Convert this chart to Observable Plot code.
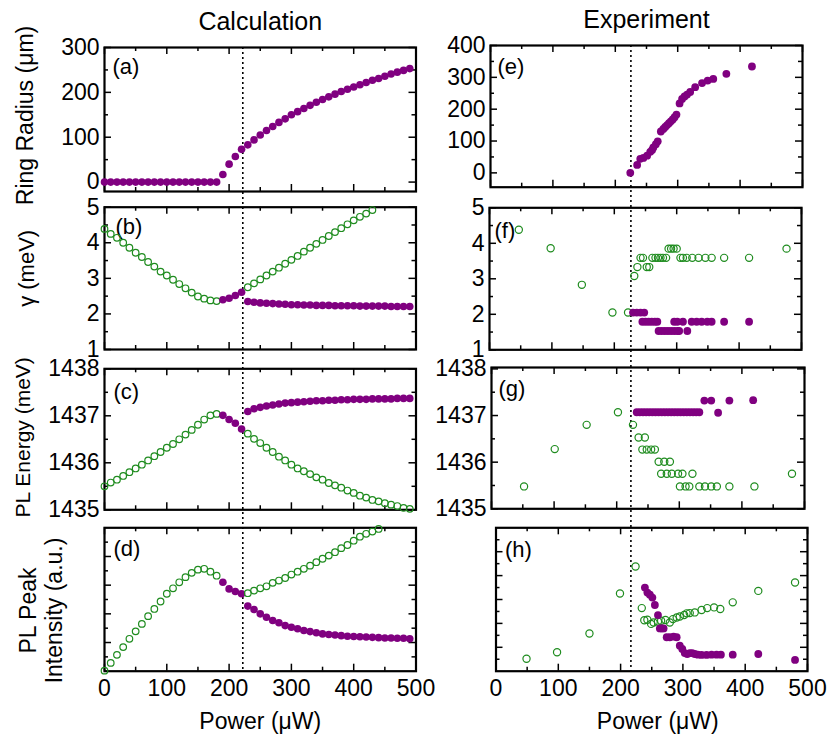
<!DOCTYPE html>
<html><head><meta charset="utf-8">
<script src="https://cdn.jsdelivr.net/npm/d3@7"></script>
<script src="https://cdn.jsdelivr.net/npm/@observablehq/plot@0.6"></script>
<style>
body{margin:0;background:#fff;}
#chart{position:relative;width:829px;height:735px;overflow:hidden;background:#fff;}
#chart svg{position:absolute;left:0;top:0;}
</style></head><body><div id="chart"></div>
<script>
// ---------------- DATA ----------------
// Calculation (left column): power in µW
const calcPower = [0,10,20,30,40,50,60,70,80,90,100,110,120,130,140,150,160,170,180,190,200,210,220,230,240,250,260,270,280,290,300,310,320,330,340,350,360,370,380,390,400,410,420,430,440,450,460,470,480,490];
const calcRadius = [0,0,0,0,0,0,0,0,0,0,0,0,0,0,0,0,0,0,0,17,40,57,73,83,94,105,115,124,133,141,150,157,164,171,178,184,190,196,202,207,212,217,222,227,231,236,241,245,249,253];

const calcGreenLowPower = [0,10,20,30,40,50,60,70,80,90,100,110,120,130,140,150,160,170,180];
const calcPurpleMidPower = [190,200,210,220];
const calcHighPower = [230,240,250,260,270,280,290,300,310,320,330,340,350,360,370,380,390,400,410,420,430,440,450,460,470,480,490];

const gammaGreenLow = [4.39,4.25,4.14,4.00,3.86,3.72,3.60,3.46,3.33,3.19,3.08,2.96,2.84,2.72,2.60,2.49,2.43,2.38,2.36];
const gammaPurpleMid = [2.40,2.44,2.52,2.61];
const gammaGreenHigh = [2.75,2.86,2.97,3.08,3.19,3.30,3.41,3.52,3.63,3.75,3.86,3.97,4.08,4.19,4.30,4.41,4.52,4.63,4.73,4.82,4.92];
const gammaPurpleHigh = [2.35,2.33,2.31,2.30,2.29,2.28,2.27,2.26,2.26,2.25,2.25,2.24,2.24,2.24,2.23,2.23,2.23,2.23,2.22,2.22,2.22,2.22,2.22,2.21,2.21,2.21,2.21];

const energyGreenLow = [1435.50,1435.58,1435.64,1435.72,1435.80,1435.88,1435.96,1436.05,1436.14,1436.23,1436.32,1436.40,1436.50,1436.60,1436.70,1436.81,1436.92,1437.01,1437.04];
const energyPurpleMid = [1437.01,1436.92,1436.84,1436.72];
const energyGreenHigh = [1436.62,1436.51,1436.42,1436.32,1436.23,1436.13,1436.05,1435.96,1435.88,1435.82,1435.76,1435.69,1435.64,1435.57,1435.52,1435.47,1435.41,1435.36,1435.30,1435.26,1435.21,1435.18,1435.14,1435.11,1435.08,1435.04,1435.02];
const energyPurpleHigh = [1437.09,1437.15,1437.18,1437.21,1437.23,1437.25,1437.27,1437.28,1437.29,1437.30,1437.31,1437.32,1437.32,1437.33,1437.33,1437.34,1437.34,1437.35,1437.35,1437.35,1437.36,1437.36,1437.36,1437.36,1437.37,1437.37,1437.37];

const intensGreenLow = [0.02,0.29,0.57,0.84,1.13,1.39,1.65,1.92,2.17,2.43,2.70,2.89,3.10,3.28,3.43,3.54,3.57,3.47,3.33];
const intensPurpleMid = [3.10,2.87,2.78,2.70];
const intensGreenHigh = [2.72,2.81,2.89,2.96,3.08,3.16,3.25,3.37,3.47,3.57,3.68,3.80,3.92,4.03,4.15,4.29,4.40,4.55,4.69,4.79,4.87,4.96];
const intensPurpleHigh = [2.27,2.15,2.00,1.88,1.77,1.69,1.59,1.53,1.48,1.42,1.38,1.34,1.30,1.28,1.26,1.24,1.22,1.21,1.20,1.19,1.18,1.17,1.16,1.16,1.15,1.15,1.13];

const calcThreshold = [222];

// Experiment (right column)
const expRadiusPower = [224,235,240,245,251,256,259,261,265,268,273,277,280,283,286,289,292,295,298,303,307,311,315,320,328,339,348,357,378,419];
const expRadius = [0,25,44,47,54,66,72,80,90,99,130,138,144,150,156,162,168,175,183,218,232,240,246,254,269,282,290,295,311,334];

const expGammaGreenPower = [47,98,148,197,222,232,237,242,246,252,256,261,266,270,274,278,283,287,291,295,300,306,310,316,325,335,346,356,376,416,476];
const expGammaGreen = [4.38,3.86,2.83,2.05,2.05,3.08,3.33,3.59,3.59,3.33,3.33,3.59,3.59,3.59,3.59,3.59,3.59,3.85,3.85,3.85,3.85,3.59,3.59,3.59,3.59,3.59,3.59,3.59,3.59,3.59,3.85];
const expGammaPurplePower = [230,236,242,248,245,250,255,260,265,269,271,276,281,286,291,296,301,304,317,296,301,310,324,332,340,349,356,376,416];
const expGammaPurple = [2.05,2.05,2.05,2.05,1.79,1.79,1.79,1.79,1.79,1.79,1.53,1.53,1.53,1.53,1.53,1.53,1.53,1.53,1.53,1.79,1.79,1.79,1.79,1.79,1.79,1.79,1.79,1.79,1.79];

const expEnergyGreenPower = [52,101,152,202,226,235,245,241,248,255,261,267,276,285,271,280,288,298,305,321,301,310,316,332,341,351,360,380,420,480];
const expEnergyGreen = [1435.48,1436.28,1436.80,1437.07,1436.80,1436.53,1436.53,1436.27,1436.27,1436.27,1436.27,1436.01,1436.01,1436.01,1435.75,1435.75,1435.75,1435.75,1435.75,1435.75,1435.48,1435.48,1435.48,1435.48,1435.48,1435.48,1435.48,1435.48,1435.48,1435.75];
const expEnergyPurplePower = [232,237,242,247,252,257,262,267,272,277,282,287,292,297,302,307,312,317,322,327,332,362,340,351,380,418];
const expEnergyPurple = [1437.07,1437.07,1437.07,1437.07,1437.07,1437.07,1437.07,1437.07,1437.07,1437.07,1437.07,1437.07,1437.07,1437.07,1437.07,1437.07,1437.07,1437.07,1437.07,1437.07,1437.07,1437.06,1437.32,1437.32,1437.32,1437.33];

const expIntensGreenPower = [49,98,150,199,224,234,238,243,249,253,260,265,272,279,284,290,295,302,306,311,319,330,339,350,360,380,421,480];
const expIntensGreen = [0.52,0.79,1.58,3.25,4.38,2.64,2.13,2.15,1.98,2.04,2.08,2.11,2.14,2.04,2.18,2.25,2.29,2.35,2.42,2.43,2.46,2.56,2.64,2.67,2.60,2.88,3.36,3.71];
const expIntensPurplePower = [239,243,247,251,255,260,263,266,269,274,279,285,290,295,299,303,307,311,315,319,324,330,338,346,354,361,380,421,480];
const expIntensPurple = [3.50,3.29,3.20,3.08,2.77,2.35,1.79,1.79,1.79,1.42,1.42,1.45,1.42,1.07,0.93,0.76,0.72,0.76,0.76,0.72,0.69,0.68,0.68,0.69,0.69,0.69,0.69,0.72,0.47];

const expThreshold = [225];

const xTickValues = [0,100,200,300,400,500];
const xMinorValues = [50,150,250,350,450];

// ---------------- DRAWING ----------------
const W = 829, H = 735;
const FONT = "'Liberation Sans', Arial, Helvetica, sans-serif";
const PURPLE = "#800080", GREEN = "#1f8c1f";

const pts = (xs, ys) => xs.map((x, i) => ({x, y: ys[i]}));
const filled = (xs, ys, r) => Plot.dot(pts(xs, ys), {x: "x", y: "y", r, fill: PURPLE, stroke: null});
const open = (xs, ys, r) => Plot.dot(pts(xs, ys), {x: "x", y: "y", r, fill: "none", stroke: GREEN, strokeWidth: 1.2});

function panel(cfg) {
  const [L, R, T, B] = cfg.frame;
  const fw = R - L, fh = B - T;
  const maj = 7, min = 4;
  const marks = [
    // inward ticks on all four sides
    Plot.ruleY(cfg.yMajor, {y: d => d, insetRight: fw - maj, strokeWidth: 1.5}),
    Plot.ruleY(cfg.yMajor, {y: d => d, insetLeft: fw - maj, strokeWidth: 1.5}),
    Plot.ruleY(cfg.yMinor, {y: d => d, insetRight: fw - min, strokeWidth: 1.5}),
    Plot.ruleY(cfg.yMinor, {y: d => d, insetLeft: fw - min, strokeWidth: 1.5}),
    Plot.ruleX(xTickValues, {x: d => d, insetTop: fh - maj, strokeWidth: 1.5}),
    Plot.ruleX(xTickValues, {x: d => d, insetBottom: fh - maj, strokeWidth: 1.5}),
    Plot.ruleX(xMinorValues, {x: d => d, insetTop: fh - min, strokeWidth: 1.5}),
    Plot.ruleX(xMinorValues, {x: d => d, insetBottom: fh - min, strokeWidth: 1.5}),
    Plot.frame({strokeWidth: 2.2}),
    Plot.text([cfg.tag], {text: d => d, frameAnchor: "top-left", textAnchor: "start", lineAnchor: "top", dx: cfg.tagDx, dy: cfg.tagDy, fontSize: 22})
  ];
  if (cfg.yLabels) marks.push(Plot.axisY(cfg.yLabels, {anchor: "left", tickSize: 0, tickPadding: 5, tickFormat: d => String(d), label: null, fontSize: 23}));
  if (cfg.xLabels) {
    marks.push(Plot.axisX(xTickValues, {anchor: "bottom", tickSize: 0, tickPadding: 8, tickFormat: d => String(d), label: null, fontSize: 23}));
    marks.push(Plot.text(["Power (μW)"], {text: d => d, frameAnchor: "bottom", lineAnchor: "top", dy: 41, dx: cfg.powerDx || 0, fontSize: 23}));
  }
  if (cfg.yTitle) marks.push(Plot.text([cfg.yTitle], {text: d => d, frameAnchor: "left", textAnchor: "middle", lineAnchor: "middle", rotate: -90, dx: cfg.yTitleDx, dy: cfg.yTitleDy || 0, fontSize: cfg.yTitleSize || 23, lineHeight: 1.15}));
  if (cfg.title) marks.push(Plot.text([cfg.title], {text: d => d, frameAnchor: "top", lineAnchor: "bottom", dy: -18, fontSize: 25}));
  if (cfg.rule) marks.push(Plot.ruleX(cfg.rule, {x: d => d, strokeDasharray: "2,3", strokeWidth: 1.6, insetBottom: -cfg.ruleExtend}));
  marks.push(...cfg.data);
  return Plot.plot({
    width: W, height: H,
    marginLeft: L, marginRight: W - R, marginTop: T, marginBottom: H - B,
    x: {domain: [0, 500], axis: null},
    y: {domain: cfg.yDomain, axis: null},
    style: {background: "transparent", fontFamily: FONT, fontSize: "22px", color: "black", overflow: "visible"},
    marks
  });
}

const RC = 3.8, RG = 3.3, RE = 3.9, RGE = 3.6;
const panels = [
  { // (a)
    frame: [104, 415.5, 47, 191], yDomain: [-21, 300], yMajor: [0,100,200,300], yMinor: [50,150,250],
    yLabels: [0,100,200,300], tag: "(a)", tagDx: 8, tagDy: 11,
    yTitle: "Ring Radius (μm)", yTitleDx: -80, yTitleDy: -4, title: "Calculation",
    rule: calcThreshold, ruleExtend: 670.7 - 191,
    data: [filled(calcPower, calcRadius, RC)]
  },
  { // (b)
    frame: [104, 415.5, 206.7, 349], yDomain: [1, 5], yMajor: [1,2,3,4,5], yMinor: [1.5,2.5,3.5,4.5],
    yLabels: [1,2,3,4,5], tag: "(b)", tagDx: 11, tagDy: 11,
    yTitle: "γ (meV)", yTitleDx: -79, yTitleDy: -10, yTitleSize: 22,
    data: [open(calcGreenLowPower, gammaGreenLow, RG), filled(calcPurpleMidPower, gammaPurpleMid, RC),
           open(calcHighPower.slice(0, gammaGreenHigh.length), gammaGreenHigh, RG), filled(calcHighPower, gammaPurpleHigh, RC)]
  },
  { // (c)
    frame: [104, 415.5, 368.3, 509.3], yDomain: [1435, 1438], yMajor: [1435,1436,1437,1438], yMinor: [1435.5,1436.5,1437.5],
    yLabels: [1435,1436,1437,1438], tag: "(c)", tagDx: 9, tagDy: 15,
    yTitle: "PL Energy (meV)", yTitleDx: -82, yTitleDy: -2, yTitleSize: 21,
    data: [open(calcGreenLowPower, energyGreenLow, RG), filled(calcPurpleMidPower, energyPurpleMid, RC),
           open(calcHighPower, energyGreenHigh, RG), filled(calcHighPower, energyPurpleHigh, RC)]
  },
  { // (d)
    frame: [104, 415.5, 527.3, 670.7], yDomain: [0, 5], yMajor: [1,2,3,4], yMinor: [0.5,1.5,2.5,3.5,4.5],
    tag: "(d)", tagDx: 9, tagDy: 13, xLabels: true,
    yTitle: "PL Peak\nIntensity (a.u.)", yTitleDx: -64, yTitleDy: 11,
    data: [open(calcGreenLowPower, intensGreenLow, RG), filled(calcPurpleMidPower, intensPurpleMid, RC),
           open(calcHighPower.slice(0, intensGreenHigh.length), intensGreenHigh, RG), filled(calcHighPower, intensPurpleHigh, RC)]
  },
  { // (e)
    frame: [490, 802, 45, 186.7], yDomain: [-45, 400], yMajor: [0,100,200,300,400], yMinor: [50,150,250,350],
    yLabels: [0,100,200,300,400], tag: "(e)", tagDx: 7, tagDy: 13, title: "Experiment",
    rule: expThreshold, ruleExtend: 670.7 - 186.7,
    data: [filled(expRadiusPower, expRadius, RE)]
  },
  { // (f)
    frame: [489, 801, 207.3, 349.3], yDomain: [1, 5], yMajor: [1,2,3,4,5], yMinor: [1.5,2.5,3.5,4.5],
    yLabels: [1,2,3,4,5], tag: "(f)", tagDx: 5, tagDy: 15,
    data: [open(expGammaGreenPower, expGammaGreen, RGE), filled(expGammaPurplePower, expGammaPurple, RE)]
  },
  { // (g)
    frame: [491, 804, 367, 508.3], yDomain: [1435, 1438.03], yMajor: [1435,1436,1437,1438], yMinor: [1435.5,1436.5,1437.5],
    yLabels: [1435,1436,1437,1438], tag: "(g)", tagDx: 7, tagDy: 13,
    data: [open(expEnergyGreenPower, expEnergyGreen, RGE), filled(expEnergyPurplePower, expEnergyPurple, RE)]
  },
  { // (h)
    frame: [495.5, 807, 527.3, 670.7], yDomain: [0, 6], yMajor: [1,2,3,4,5], yMinor: [0.5,1.5,2.5,3.5,4.5,5.5],
    tag: "(h)", tagDx: 9, tagDy: 14, xLabels: true, powerDx: 6,
    data: [open(expIntensGreenPower, expIntensGreen, RGE), filled(expIntensPurplePower, expIntensPurple, RE)]
  }
];

const chart = document.getElementById("chart");
for (const p of panels) chart.appendChild(panel(p));
</script>
</body></html>
